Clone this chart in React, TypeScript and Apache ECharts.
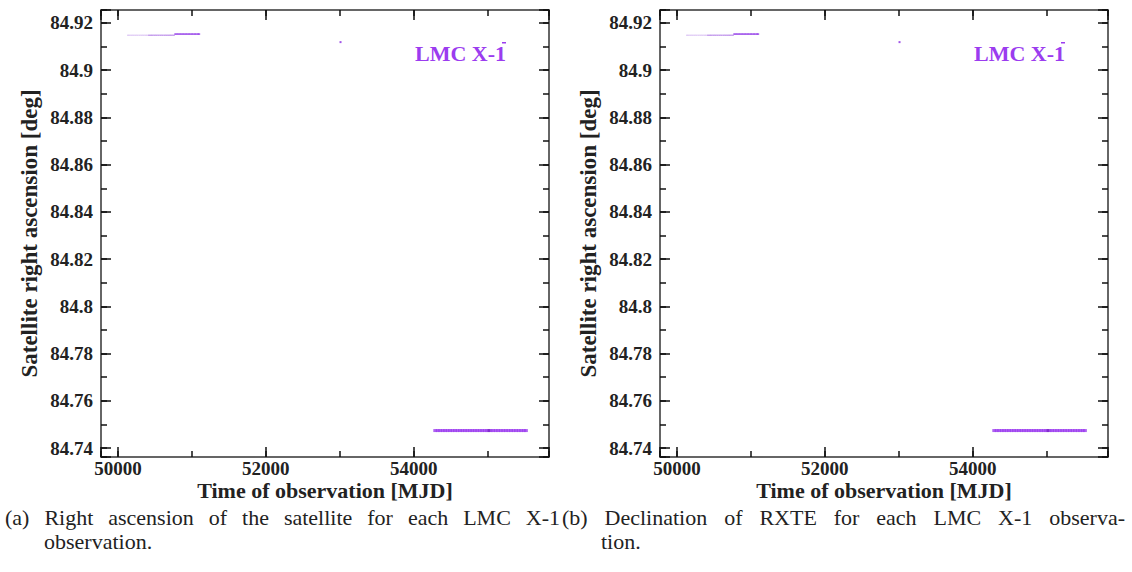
import React, { useEffect, useRef } from "react";
import * as echarts from "echarts";

// ---------------- data ----------------
const xTickValues = [50000, 52000, 54000];
const yTickValues = [84.74, 84.76, 84.78, 84.8, 84.82, 84.84, 84.86, 84.88, 84.9, 84.92];

// early observations (faint)
const mjdEarly = [50136, 50160, 50187, 50212, 50238, 50263, 50290, 50316, 50341, 50368, 50392];
const raEarly = [84.9148, 84.9148, 84.9148, 84.9148, 84.9148, 84.9148, 84.9148, 84.9148, 84.9148, 84.9148, 84.9148];

const mjdMid = [50420, 50446, 50471, 50498, 50523, 50549, 50575, 50600, 50627, 50652, 50678, 50704, 50729, 50755];
const raMid = [84.9148, 84.9148, 84.9148, 84.9148, 84.9148, 84.9148, 84.9148, 84.9148, 84.9148, 84.9148, 84.9148, 84.9148, 84.9148, 84.9148];

const mjdLate = [50775, 50795, 50815, 50836, 50856, 50877, 50897, 50918, 50938, 50959, 50979, 51000, 51020, 51041, 51061, 51082, 51098];
const raLate = [84.9153, 84.9153, 84.9153, 84.9153, 84.9153, 84.9153, 84.9153, 84.9153, 84.9153, 84.9153, 84.9153, 84.9153, 84.9153, 84.9153, 84.9153, 84.9153, 84.9153];

const mjdSingle = [53010];
const raSingle = [84.9119];

const mjdRecent = [54292, 54325, 54358, 54392, 54425, 54458, 54492, 54525, 54559, 54592, 54626, 54659, 54692, 54726, 54759, 54793, 54826, 54860, 54893, 54927, 54960, 54994, 55040, 55074, 55108, 55143, 55177, 55212, 55246, 55281, 55316, 55350, 55385, 55420, 55454, 55489, 55517];
const raRecent = [84.7474, 84.7474, 84.7474, 84.7474, 84.7474, 84.7474, 84.7474, 84.7474, 84.7474, 84.7474, 84.7474, 84.7474, 84.7474, 84.7474, 84.7474, 84.7474, 84.7474, 84.7474, 84.7474, 84.7474, 84.7474, 84.7474, 84.7474, 84.7474, 84.7474, 84.7474, 84.7474, 84.7474, 84.7474, 84.7474, 84.7474, 84.7474, 84.7474, 84.7474, 84.7474, 84.7474, 84.7474];

const mjdRecentDark = [55017];
const raRecentDark = [84.7474];

const legendLabel = "LMC X-1";
const xTitle = "Time of observation [MJD]";
const yTitle = "Satellite right ascension [deg]";
const captionA1 = ["(a)", "Right", "ascension", "of", "the", "satellite", "for", "each", "LMC", "X-1"];
const captionA2 = "observation.";
const captionB1 = ["(b)", "Declination", "of", "RXTE", "for", "each", "LMC", "X-1", "observa-"];
const captionB2 = "tion.";

// ---------------- layout ----------------
const X_MIN = 49770;
const X_MAX = 55830;
const Y_MIN = 84.7362;
const Y_MAX = 84.9255;
const GRIDS = [
  { left: 101, top: 10, width: 448, height: 447 },
  { left: 660, top: 10, width: 448, height: 447 },
];
const PURPLE = "#9b3cef";
const SERIF = "Liberation Serif";

const zip = (a: number[], b: number[]) => a.map((v, i) => [v, b[i]]);
const near = (v: number, list: number[]) => list.some((t) => Math.abs(t - v) < 1e-6);

function xAxesFor(g: number) {
  const base = (pos: string, major: boolean, labels: boolean, line: boolean) => ({
    type: "value",
    gridIndex: g,
    position: pos,
    min: X_MIN,
    max: X_MAX,
    minInterval: major ? 2000 : 1000,
    maxInterval: major ? 2000 : 1000,
    axisLine: { show: line, onZero: false, lineStyle: { color: "#333", width: 1.5 } },
    axisTick: { show: true, inside: true, length: major ? 10 : 6, lineStyle: { color: "#111", width: 1.5 } },
    axisLabel: {
      show: labels,
      margin: 2,
      color: "#222",
      fontFamily: SERIF,
      fontWeight: "bold",
      fontSize: 19,
      lineHeight: 19,
      formatter: (v: number) => (near(v, xTickValues) ? String(Math.round(v)) : ""),
    },
    splitLine: { show: false },
    minorTick: { show: false },
    ...(labels
      ? {
          name: xTitle,
          nameLocation: "middle",
          nameGap: 22,
          nameMoveOverlap: false,
          nameTextStyle: { color: "#222", fontFamily: SERIF, fontWeight: "bold", fontSize: 22, verticalAlign: "top", lineHeight: 22 },
        }
      : {}),
  });
  return [base("bottom", true, true, true), base("bottom", false, false, false), base("top", true, false, true), base("top", false, false, false)];
}

function yAxesFor(g: number) {
  const base = (pos: string, major: boolean, labels: boolean, line: boolean) => ({
    type: "value",
    gridIndex: g,
    position: pos,
    min: Y_MIN,
    max: Y_MAX,
    minInterval: major ? 0.02 : 0.01,
    maxInterval: major ? 0.02 : 0.01,
    axisLine: { show: line, onZero: false, lineStyle: { color: "#333", width: 1.5 } },
    axisTick: { show: true, inside: true, length: major ? 10 : 6, lineStyle: { color: "#111", width: 1.5 } },
    axisLabel: {
      show: labels,
      margin: 8,
      color: "#222",
      fontFamily: SERIF,
      fontWeight: "bold",
      fontSize: 19,
      formatter: (v: number) => (near(v, yTickValues) ? String(Number(v.toFixed(2))) : ""),
    },
    splitLine: { show: false },
    minorTick: { show: false },
    ...(labels
      ? {
          name: yTitle,
          nameLocation: "middle",
          nameRotate: 90,
          nameGap: 60,
          nameTextStyle: { color: "#222", fontFamily: SERIF, fontWeight: "bold", fontSize: 23 },
        }
      : {}),
  });
  return [base("left", true, true, true), base("left", false, false, false), base("right", true, false, true), base("right", false, false, false)];
}

function seriesFor(g: number) {
  const ax = { xAxisIndex: g * 4, yAxisIndex: g * 4 };
  const sc = (data: number[][], color: string, size: number | number[]) => ({
    type: "scatter",
    ...ax,
    data,
    symbol: "rect",
    symbolSize: size,
    itemStyle: { color },
    silent: true,
  });
  return [
    sc(zip(mjdEarly, raEarly), "#d9c0f3", [2, 1.4]),
    sc(zip(mjdMid, raMid), "#b98ae8", [2, 1.5]),
    sc(zip(mjdLate, raLate), "#9a48ea", [2, 1.8]),
    sc(zip(mjdSingle, raSingle), "#8a2be2", [2, 2]),
    sc(zip(mjdRecent, raRecent), PURPLE, [4, 3]),
    sc(zip(mjdRecentDark, raRecentDark), "#7a22c8", [3, 3]),
  ];
}

function justifyLine(words: string[], left: number, right: number, y: number, size: number) {
  const canvas = document.createElement("canvas");
  const ctx = canvas.getContext("2d")!;
  ctx.font = `${size}px "Liberation Serif"`;
  const widths = words.map((w) => ctx.measureText(w).width);
  const total = widths.reduce((a, b) => a + b, 0);
  const gap = (right - left - total) / (words.length - 1);
  let x = left;
  return words.map((w, i) => {
    const el = {
      type: "text",
      x,
      y,
      silent: true,
      style: { text: w, fontFamily: SERIF, fontSize: size, fill: "#222", align: "left", verticalAlign: "middle", textAlign: "left", textVerticalAlign: "middle" },
    };
    x += widths[i] + gap;
    return el;
  });
}

export default function App() {
  const ref = useRef<HTMLDivElement>(null);
  useEffect(() => {
    if (!ref.current) return;
    const chart = echarts.init(ref.current, null, { renderer: "svg" });
    const capSize = 22;
    const plain = (text: string, x: number, y: number) => ({
      type: "text",
      x,
      y,
      silent: true,
      style: { text, fontFamily: SERIF, fontSize: capSize, fill: "#222", align: "left", verticalAlign: "middle", textAlign: "left", textVerticalAlign: "middle" },
    });
    const graphics: any[] = [];
    GRIDS.forEach((gr) => {
      const rx = gr.left + gr.width - 43;
      graphics.push({
        type: "text",
        x: rx,
        y: 53,
        silent: true,
        style: { text: legendLabel, fontFamily: SERIF, fontWeight: "bold", fontSize: 22, fill: PURPLE, align: "right", verticalAlign: "middle", textAlign: "right", textVerticalAlign: "middle" },
      });
      graphics.push({ type: "rect", silent: true, shape: { x: rx - 4, y: 42, width: 4, height: 1.5 }, style: { fill: PURPLE } });
    });
    graphics.push(...justifyLine(captionA1, 5, 560, 517, capSize));
    graphics.push(plain(captionA2, 44, 541));
    graphics.push(...justifyLine(captionB1, 562, 1125, 517, capSize));
    graphics.push(plain(captionB2, 601, 541));

    const option: any = {
      animation: false,
      backgroundColor: "#fff",
      textStyle: { fontFamily: SERIF },
      grid: GRIDS.map((g) => ({ ...g, containLabel: false, outerBoundsMode: "none" })),
      xAxis: [...xAxesFor(0), ...xAxesFor(1)],
      yAxis: [...yAxesFor(0), ...yAxesFor(1)],
      series: [...seriesFor(0), ...seriesFor(1)],
      graphic: graphics,
    };
    chart.setOption(option);
    return () => chart.dispose();
  }, []);
  return (
    <div
      ref={ref}
      style={{ position: "absolute", left: 0, top: 0, width: 1132, height: 572, background: "#fff", fontFamily: SERIF }}
    />
  );
}
